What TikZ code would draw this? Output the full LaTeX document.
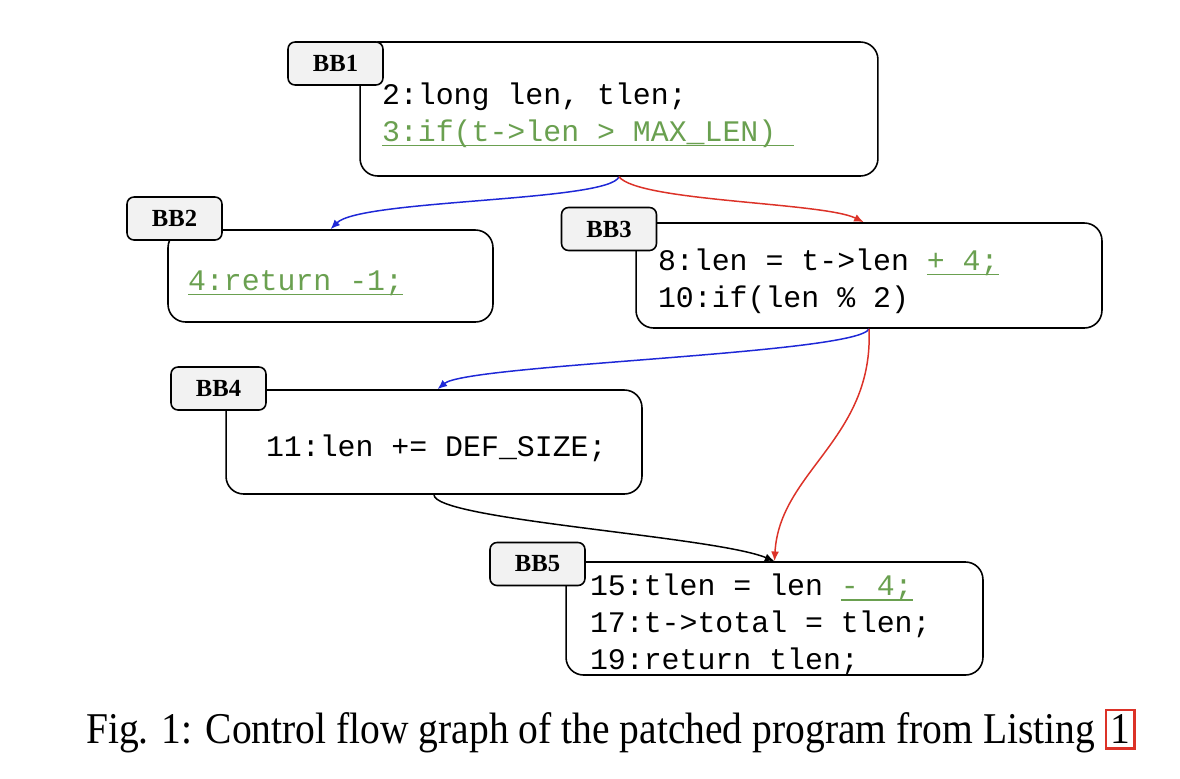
\documentclass[tikz,border=0pt]{standalone}
\usepackage{fontspec}
\setmainfont{Liberation Serif}
\setmonofont{Liberation Mono}
\usepackage{xcolor}
\usetikzlibrary{positioning,arrows.meta}
\definecolor{patchgreen}{RGB}{106,160,80}
\definecolor{edgeblue}{RGB}{30,40,215}
\definecolor{edgered}{RGB}{220,50,40}
\definecolor{tagfill}{RGB}{242,242,242}
% patched code: green, underlined close to the baseline
\newcommand{\patched}[1]{\textcolor{patchgreen}{\setbox0\hbox{#1}\rlap{\rule[-2.6pt]{\wd0}{0.7pt}}\box0}}
% fixed width blank for the code lines
\newcommand{\csp}{\hspace*{0.6em}}
\newcommand{\lift}{\rule{0pt}{\dimexpr\fontcharht\font`\(+7pt\relax}}
\tikzset{
  bbbox/.style={
    draw,
    line width=0.9pt,
    rounded corners=10pt,
    fill=white,
    align=left,
    font=\ttfamily\fontsize{17}{21}\selectfont,
    inner ysep=0pt,
    execute at begin node={\lift}
  },
  bbtag/.style={
    draw,
    line width=0.9pt,
    rounded corners=4pt,
    fill=tagfill,
    font=\bfseries\fontsize{14}{16}\selectfont,
    minimum width=1.9cm,
    minimum height=0.86cm,
    inner sep=0pt
  },
  cfgedge/.style={
    -{Latex[length=5.5pt,width=4.5pt]},
    line width=0.85pt
  }
}
\begin{document}
\begin{tikzpicture}[x=0.02cm, y=-0.02cm]
    \useasboundingbox (0,0) rectangle (1180,778);

    % basic blocks
    \node[bbbox, minimum width=10.36cm, minimum height=2.68cm, text width=9.48cm, inner xsep=0.44cm] (bb1) at (619,109)
      {2:long\csp len,\csp tlen;\\\patched{3:if(t->len\csp >\csp MAX\_LEN)\csp}};
    \node[bbbox, minimum width=6.5cm, minimum height=1.84cm, text width=5.7cm, inner xsep=0.4cm] (bb2) at (330.5,276)
      {\patched{4:return\csp -1;}};
    \node[bbbox, minimum width=9.32cm, minimum height=2.1cm, text width=8.44cm, inner xsep=0.44cm] (bb3) at (869,275.5)
      {8:len\csp =\csp t->len\csp \patched{+\csp 4;}\\10:if(len\csp \%\csp 2)};
    \node[bbbox, minimum width=8.32cm, minimum height=2.08cm, text width=6.72cm, inner xsep=0.8cm] (bb4) at (434,442)
      {11:len\csp +=\csp DEF\_SIZE;};
    \node[bbbox, minimum width=8.34cm, minimum height=2.22cm, text width=7.38cm, inner xsep=0.48cm] (bb5) at (774.5,618.5)
      {15:tlen\csp =\csp len\csp \patched{-\csp 4;}\\17:t->total\csp =\csp tlen;\\19:return\csp tlen;};

    % block tags
    \node[bbtag] (tag1) at (335.5,63.5) {BB1};
    \node[bbtag] (tag2) at (174.5,218.5) {BB2};
    \node[bbtag] (tag3) at (609,229) {BB3};
    \node[bbtag] (tag4) at (218.5,388.5) {BB4};
    \node[bbtag] (tag5) at (537.5,564) {BB5};

    % edges
    \draw[cfgedge, edgeblue] (bb1.south) .. controls +(-10,25) and +(30,-30) .. (bb2.north);
    \draw[cfgedge, edgered] (bb1.south) .. controls +(20,25) and +(-40,-20) .. ([xshift=-3]bb3.north);
    \draw[cfgedge, edgeblue] (bb3.south) .. controls +(-10,25) and +(30,-25) .. ([xshift=2]bb4.north);
    \draw[cfgedge, edgered] (bb3.south) .. controls +(5,110) and +(5,-90) .. (bb5.north);
    \draw[cfgedge] (bb4.south) .. controls +(0,25) and +(-60,-25) .. (bb5.north);

    \node (caption) at (611,731)
      {\scalebox{0.9}[1]{\fontsize{25}{30}\selectfont Fig. 1: Control flow graph of the patched program from Listing {\fboxsep=2pt\fboxrule=1.5pt\fcolorbox{edgered}{white}{1}}}};
\end{tikzpicture}
\end{document}
